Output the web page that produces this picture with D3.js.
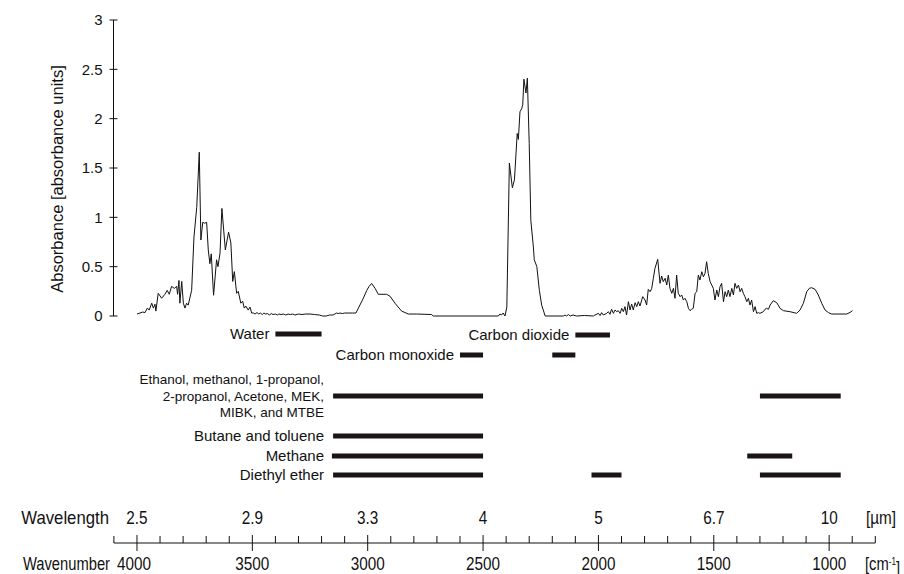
<!DOCTYPE html>
<html>
<head>
<meta charset="utf-8">
<script src="https://cdn.jsdelivr.net/npm/d3@7"></script>
<style>
  body { margin: 0; background: #fff; }
  svg { display: block; }
  text { font-family: "Liberation Sans", Arial, sans-serif; fill: #111; }
</style>
</head>
<body>
<svg id="chart" width="904" height="574"></svg>
<script>
// spectrum (wavenumber in cm-1, absorbance)
const wavenumbers = [
  4000, 3987, 3975, 3965, 3955, 3947, 3936, 3929, 3922, 3918, 3908, 3893, 3879, 3869, 3860, 3850,
  3838, 3828, 3824, 3818, 3814, 3806, 3799, 3792, 3785, 3778, 3763, 3753, 3741, 3730, 3723, 3715,
  3707, 3698, 3691, 3684, 3678, 3668, 3655, 3649, 3640, 3632, 3617, 3603, 3593, 3585, 3578, 3568,
  3561, 3550, 3542, 3535, 3528, 3518, 3510, 3503,
  3495, 3488, 3480, 3472, 3465, 3457, 3450, 3442, 3435, 3425, 3418, 3410, 3400, 3392, 3385, 3375,
  3365, 3355, 3345, 3335, 3325, 3315, 3300, 3285, 3270, 3250, 3230, 3210, 3195, 3180, 3165, 3150,
  3135, 3128, 3120, 3110, 3100, 3085, 3065, 3051,
  3019, 3004, 2994, 2983, 2968, 2954, 2938, 2918, 2903, 2882, 2853, 2824, 2788, 2723, 2716, 2434,
  2427, 2420, 2413, 2405, 2397, 2386, 2373, 2364, 2352, 2347, 2340, 2333, 2328, 2323, 2314, 2308,
  2300, 2293, 2282, 2278, 2267, 2256, 2246, 2239, 2231, 2152, 2145, 2138, 2130, 2122, 2110, 2095,
  2060, 2022, 2015, 2000, 1993, 1986, 1979, 1964, 1957, 1950, 1943, 1935, 1928, 1921, 1914, 1906,
  1899, 1892, 1885, 1878, 1870, 1863, 1856, 1849, 1841, 1834, 1827, 1820, 1808, 1798, 1791, 1784,
  1776, 1769, 1762, 1755, 1743, 1733, 1726, 1719, 1711, 1704, 1697, 1690, 1682, 1675, 1668, 1661,
  1654, 1646, 1639, 1632, 1625, 1617, 1610, 1603, 1596, 1589, 1581, 1574, 1567, 1560, 1552, 1545,
  1538, 1531, 1524, 1516, 1509, 1502, 1495, 1487, 1480, 1473, 1466, 1458, 1451, 1444, 1437, 1430,
  1422, 1415, 1408, 1401, 1393, 1386, 1379, 1372, 1365, 1357, 1350, 1343, 1336, 1328, 1321, 1314,
  1307, 1300, 1285, 1278, 1271, 1263, 1256, 1242, 1227, 1213, 1198, 1170, 1141, 1126, 1112, 1097,
  1086, 1076, 1061, 1047, 1032, 1018, 1003, 989, 924, 909, 899
];
const absorbance = [
  0.02, 0.03, 0.04, 0.035, 0.08, 0.06, 0.13, 0.08, 0.12, 0.05, 0.23, 0.18, 0.22, 0.26, 0.22, 0.30,
  0.28, 0.30, 0.22, 0.36, 0.13, 0.35, 0.13, 0.08, 0.13, 0.11, 0.26, 0.80, 1.10, 1.66, 0.77, 0.95,
  0.94, 0.95, 0.67, 0.53, 0.63, 0.21, 0.57, 0.50, 0.64, 1.09, 0.67, 0.85, 0.74, 0.35, 0.45, 0.23,
  0.25, 0.13, 0.15, 0.08, 0.10, 0.06, 0.09, 0.03,
  0.03, 0.02, 0.035, 0.02, 0.03, 0.015, 0.03, 0.02, 0.025, 0.01, 0.025, 0.015, 0.02, 0.01, 0.02, 0.015,
  0.02, 0.01, 0.02, 0.015, 0.02, 0.01, 0.02, 0.015, 0.02, 0.02, 0.015, 0.01, 0.0, 0.0, 0.01, 0.01,
  0.03, 0.025, 0.03, 0.025, 0.03, 0.03, 0.03, 0.03,
  0.18, 0.26, 0.30, 0.33, 0.28, 0.22, 0.22, 0.22, 0.20, 0.13, 0.05, 0.02, 0.02, 0.015, 0.0, 0.0,
  0.02, 0.01, 0.03, 0.0, 0.09, 1.55, 1.30, 1.38, 1.85, 1.79, 2.07, 2.10, 2.14, 2.40, 2.26, 2.41,
  1.75, 0.97, 0.70, 0.57, 0.50, 0.26, 0.11, 0.06, 0.0, 0.0, 0.01, 0.0, 0.015, 0.0, 0.01, 0.0,
  0.005, 0.0, 0.01, 0.027, 0.004, 0.034, 0.01, 0.027, 0.044, 0.017, 0.068, 0.027, 0.061, 0.044, 0.054, 0.027,
  0.078, 0.044, 0.095, 0.01, 0.145, 0.061, 0.122, 0.061, 0.135, 0.095, 0.145, 0.101, 0.196, 0.162, 0.111, 0.27,
  0.246, 0.28, 0.382, 0.483, 0.574, 0.331, 0.405, 0.348, 0.382, 0.314, 0.415, 0.28, 0.23, 0.28, 0.179, 0.415,
  0.23, 0.196, 0.213, 0.162, 0.179, 0.145, 0.078, 0.054, 0.068, 0.078, 0.23, 0.246, 0.415, 0.365, 0.449, 0.398,
  0.432, 0.55, 0.432, 0.348, 0.314, 0.28, 0.162, 0.263, 0.196, 0.297, 0.331, 0.145, 0.246, 0.196, 0.263, 0.196,
  0.28, 0.213, 0.331, 0.28, 0.314, 0.246, 0.28, 0.23, 0.196, 0.145, 0.179, 0.111, 0.162, 0.044, 0.095, 0.027,
  0.034, 0.027, 0.044, 0.068, 0.078, 0.068, 0.111, 0.155, 0.135, 0.078, 0.054, 0.044, 0.027, 0.061, 0.128, 0.247,
  0.28, 0.287, 0.27, 0.213, 0.128, 0.061, 0.034, 0.02, 0.02, 0.037, 0.054
];

// gas absorption bands (wavenumber ranges, cm-1)
const gasLabels = [
  ["Water"],
  ["Carbon dioxide"],
  ["Carbon monoxide"],
  ["Ethanol, methanol, 1-propanol,", "2-propanol, Acetone, MEK,", "MIBK, and MTBE"],
  ["Butane and toluene"],
  ["Methane"],
  ["Diethyl ether"]
];
const gasBands = [
  [[3400, 3200]],
  [[2100, 1950]],
  [[2600, 2500], [2200, 2100]],
  [[3150, 2500], [1300, 950]],
  [[3150, 2500]],
  [[3155, 2500], [1355, 1160]],
  [[3150, 2500], [2030, 1900], [1300, 950]]
];

// axis ticks
const yTicks = [0, 0.5, 1, 1.5, 2, 2.5, 3];
const wnTicks = [4000, 3500, 3000, 2500, 2000, 1500, 1000];
const wlLabels = ["2.5", "2.9", "3.3", "4", "5", "6.7", "10"];

const svg = d3.select('#chart');

const x = d3.scaleLinear().domain([4100, 800]).range([113.9, 875.3]);
const y = d3.scaleLinear().domain([0, 3]).range([316, 20]);

// y axis
const yAxis = svg.append('g').attr('transform', 'translate(113.5,0)');
yAxis.append('line')
    .attr('y1', y(0)).attr('y2', y(3))
    .attr('stroke', '#111');
yAxis.selectAll('.tick').data(yTicks).join('line')
    .attr('x1', -4).attr('x2', 4)
    .attr('y1', d => y(d)).attr('y2', d => y(d))
    .attr('stroke', '#111');
yAxis.selectAll('text').data(yTicks).join('text')
    .attr('x', -11)
    .attr('y', d => y(d))
    .attr('dy', '0.35em')
    .attr('text-anchor', 'end')
    .style('font-size', '15px')
    .text(d => d);

svg.append('text')
    .attr('transform', `translate(63,${(y(0) + y(3)) / 2 + 11}) rotate(-90)`)
    .attr('text-anchor', 'middle')
    .style('font-size', '16.5px')
    .text('Absorbance [absorbance units]');

// spectrum
const pts = wavenumbers.map((w, i) => [w, absorbance[i]]);
svg.append('path')
    .datum(pts)
    .attr('fill', 'none')
    .attr('stroke', '#111')
    .attr('stroke-width', 1)
    .attr('d', d3.line().x(d => x(d[0])).y(d => y(d[1])));

// gas bands
const rowY = [334, 335, 355, 396, 436, 456, 475];
const groupLabelX = 324;
const gas = svg.append('g');
gasBands.forEach((bands, i) => {
    gas.selectAll(null).data(bands).join('rect')
        .attr('x', d => x(d[0]))
        .attr('width', d => x(d[1]) - x(d[0]))
        .attr('y', rowY[i] - 2.5)
        .attr('height', 5)
        .attr('fill', '#1a1414');
    const lx = i < 3 ? x(bands[0][0]) - 6 : groupLabelX;
    const lines = gasLabels[i];
    gas.append('text')
        .attr('text-anchor', 'end')
        .style('font-size', lines.length > 1 ? '13.5px' : '15px')
        .selectAll('tspan').data(lines).join('tspan')
        .attr('x', lx)
        .attr('y', (d, j) => rowY[i] + (j - (lines.length - 1) / 2) * 16.5)
        .attr('dy', '0.35em')
        .text(d => d);
});

// bottom dual axis
const axisY = 543;
const bottom = svg.append('g');
bottom.append('line')
    .attr('x1', x(4100)).attr('x2', x(800))
    .attr('y1', axisY).attr('y2', axisY)
    .attr('stroke', '#111');
bottom.selectAll('.minor').data(d3.range(4100, 799, -100).filter(d => d % 500 !== 0)).join('line')
    .attr('x1', d => x(d)).attr('x2', d => x(d))
    .attr('y1', axisY - 7).attr('y2', axisY)
    .attr('stroke', '#111');
bottom.selectAll('.major').data(wnTicks).join('line')
    .attr('x1', d => x(d)).attr('x2', d => x(d))
    .attr('y1', axisY - 8).attr('y2', axisY + 8)
    .attr('stroke', '#111');

// condensed look of the scale labels
function narrowText(sel, px, py, anchor, str, sx = 0.85) {
    return sel.append('text')
        .attr('transform', `translate(${px},${py}) scale(${sx},1)`)
        .attr('dy', '0.35em')
        .attr('text-anchor', anchor)
        .style('font-size', '18px')
        .text(str);
}
wnTicks.forEach((d, i) => {
    narrowText(bottom, x(d), 518, 'middle', wlLabels[i]);
    narrowText(bottom, x(d) - (i === 0 ? 3 : 0), 564, 'middle', d);
});
narrowText(bottom, 109, 518, 'end', 'Wavelength', 0.93);
narrowText(bottom, 110, 564, 'end', 'Wavenumber', 0.82);
narrowText(bottom, 866, 518, 'start', '[µm]');
const cm = narrowText(bottom, 865, 564, 'start', '', 0.82);
cm.append('tspan').text('[cm');
cm.append('tspan').attr('dy', '-0.5em').style('font-size', '10px').text('-1');
cm.append('tspan').attr('dy', '0.5em').text(']');
</script>
</body>
</html>
